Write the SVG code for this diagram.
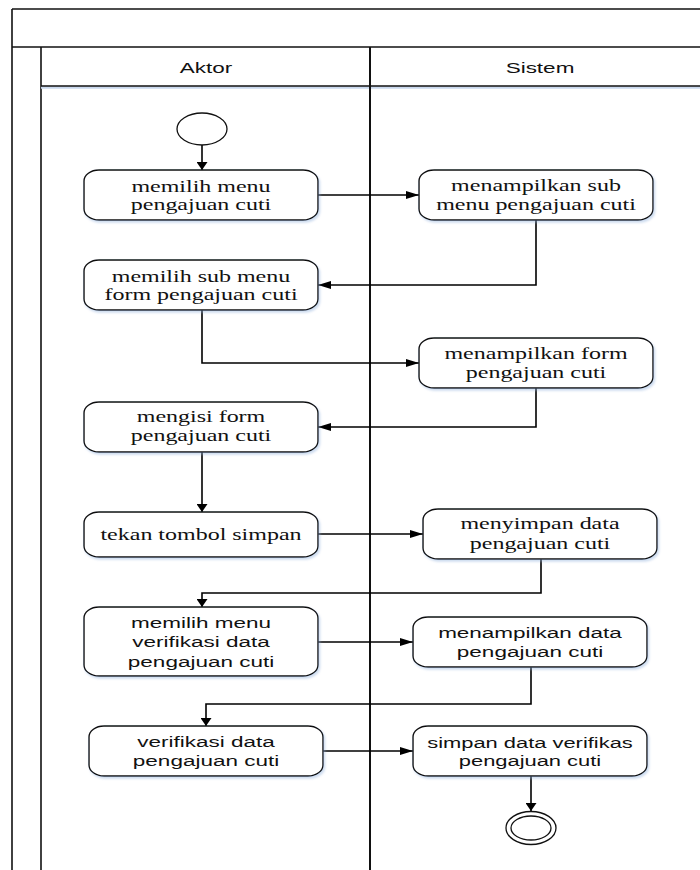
<svg xmlns="http://www.w3.org/2000/svg" width="700" height="870" viewBox="0 0 700 870">
<style>
.frame{fill:none;stroke:#111;stroke-width:1.6}
.box{fill:#fff;stroke:#111;stroke-width:1.4;filter:url(#sh)}
.conn{fill:none;stroke:#000;stroke-width:1.6}
.serif{font-family:"Liberation Serif","Times New Roman",serif;font-size:16px;fill:#111;text-anchor:middle}
.sans{font-family:"Liberation Sans",Arial,sans-serif;font-size:15px;fill:#111;text-anchor:middle}
</style>
<defs>
<filter id="sh" x="-10%" y="-20%" width="125%" height="150%">
<feDropShadow dx="1.5" dy="2" stdDeviation="1.2" flood-color="#8fb0dc" flood-opacity="0.45"/>
</filter>
<marker id="ah" markerUnits="userSpaceOnUse" markerWidth="13" markerHeight="8" refX="13" refY="4" orient="auto">
<path d="M0,0 L13,4 L0,8 z" fill="#000"/>
</marker>
<marker id="av" markerUnits="userSpaceOnUse" markerWidth="8" markerHeight="11" refX="8" refY="5.5" orient="auto">
<path d="M0,0 L8,5.5 L0,11 z" fill="#000"/>
</marker>
</defs>
<rect width="700" height="870" fill="#fff"/>
<g id="frame">
<line class="frame" x1="12" y1="9" x2="700" y2="9"/>
<line class="frame" x1="12" y1="9" x2="12" y2="870"/>
<line class="frame" x1="12" y1="47" x2="700" y2="47"/>
<line class="frame" x1="41" y1="47" x2="41" y2="870"/>
<line x1="41" y1="87.5" x2="700" y2="87.5" stroke="#c9d8ee" stroke-width="2.5"/>
<line class="frame" x1="41" y1="86" x2="700" y2="86"/>
<line x1="370" y1="47" x2="370" y2="870" stroke="#111" stroke-width="2"/>
<text class="sans" transform="translate(206,0) scale(1.5,1)" y="73">Aktor</text>
<text class="sans" transform="translate(540,0) scale(1.5,1)" y="73">Sistem</text>
</g>
<g id="connectors">
<path class="conn" d="M202,145 V170" marker-end="url(#av)"/>
<path class="conn" d="M318,195 H419" marker-end="url(#ah)"/>
<path class="conn" d="M536,220 V285 H318" marker-end="url(#ah)"/>
<path class="conn" d="M202,310 V363 H419" marker-end="url(#ah)"/>
<path class="conn" d="M536,388 V427 H318" marker-end="url(#ah)"/>
<path class="conn" d="M202,452 V512" marker-end="url(#av)"/>
<path class="conn" d="M318,534 H423" marker-end="url(#ah)"/>
<path class="conn" d="M541,559 V593 H202 V607" marker-end="url(#av)"/>
<path class="conn" d="M318,642 H413" marker-end="url(#ah)"/>
<path class="conn" d="M531,667 V704 H206 V726" marker-end="url(#av)"/>
<path class="conn" d="M323,751 H413" marker-end="url(#ah)"/>
<path class="conn" d="M531,776 V811" marker-end="url(#av)"/>
</g>
<g id="start">
<ellipse cx="202" cy="129" rx="25" ry="16" fill="#fff" stroke="#111" stroke-width="1.3"/>
</g>
<g id="n1">
<rect class="box" x="84" y="170" width="234" height="50" rx="15" ry="11"/>
<text class="serif" transform="translate(201,0) scale(1.5,1)"><tspan x="0" y="192">memilih menu</tspan><tspan x="0" y="210.5">pengajuan cuti</tspan></text>
</g>
<g id="n2">
<rect class="box" x="419" y="170" width="234" height="50" rx="15" ry="11"/>
<text class="serif" transform="translate(536,0) scale(1.5,1)"><tspan x="0" y="191">menampilkan sub</tspan><tspan x="0" y="210">menu pengajuan cuti</tspan></text>
</g>
<g id="n3">
<rect class="box" x="84" y="260" width="234" height="50" rx="15" ry="11"/>
<text class="serif" transform="translate(201,0) scale(1.5,1)"><tspan x="0" y="282">memilih sub menu</tspan><tspan x="0" y="300.5">form pengajuan cuti</tspan></text>
</g>
<g id="n4">
<rect class="box" x="419" y="338" width="234" height="50" rx="15" ry="11"/>
<text class="serif" transform="translate(536,0) scale(1.5,1)"><tspan x="0" y="359.5">menampilkan form</tspan><tspan x="0" y="378.5">pengajuan cuti</tspan></text>
</g>
<g id="n5">
<rect class="box" x="84" y="402" width="234" height="50" rx="15" ry="11"/>
<text class="serif" transform="translate(201,0) scale(1.5,1)"><tspan x="0" y="422.5">mengisi form</tspan><tspan x="0" y="441.5">pengajuan cuti</tspan></text>
</g>
<g id="n6">
<rect class="box" x="84" y="512" width="234" height="45" rx="15" ry="11"/>
<text class="serif" transform="translate(201,0) scale(1.5,1)" y="540">tekan tombol simpan</text>
</g>
<g id="n7">
<rect class="box" x="423" y="509" width="234" height="50" rx="15" ry="11"/>
<text class="serif" transform="translate(540,0) scale(1.5,1)"><tspan x="0" y="529.5">menyimpan data</tspan><tspan x="0" y="549">pengajuan cuti</tspan></text>
</g>
<g id="n8">
<rect class="box" x="84" y="607" width="234" height="69" rx="15" ry="11"/>
<text class="sans" transform="translate(201,0) scale(1.5,1)"><tspan x="0" y="628">memilih menu</tspan><tspan x="0" y="647.5">verifikasi data</tspan><tspan x="0" y="667">pengajuan cuti</tspan></text>
</g>
<g id="n9">
<rect class="box" x="413" y="617" width="234" height="50" rx="15" ry="11"/>
<text class="sans" transform="translate(530,0) scale(1.5,1)"><tspan x="0" y="638">menampilkan data</tspan><tspan x="0" y="657">pengajuan cuti</tspan></text>
</g>
<g id="n10">
<rect class="box" x="89" y="726" width="234" height="50" rx="15" ry="11"/>
<text class="sans" transform="translate(206,0) scale(1.5,1)"><tspan x="0" y="747">verifikasi data</tspan><tspan x="0" y="766">pengajuan cuti</tspan></text>
</g>
<g id="n11">
<rect class="box" x="413" y="726" width="234" height="50" rx="15" ry="11"/>
<text class="sans" transform="translate(530,0) scale(1.46,1)"><tspan x="0" y="748">simpan data verifikas</tspan><tspan x="0" y="766.5">pengajuan cuti</tspan></text>
</g>
<g id="end">
<ellipse cx="531" cy="828" rx="25" ry="16.5" fill="#fff" stroke="#111" stroke-width="1.3"/>
<ellipse cx="531" cy="828" rx="20" ry="12" fill="#fff" stroke="#111" stroke-width="1.3"/>
</g>
</svg>
